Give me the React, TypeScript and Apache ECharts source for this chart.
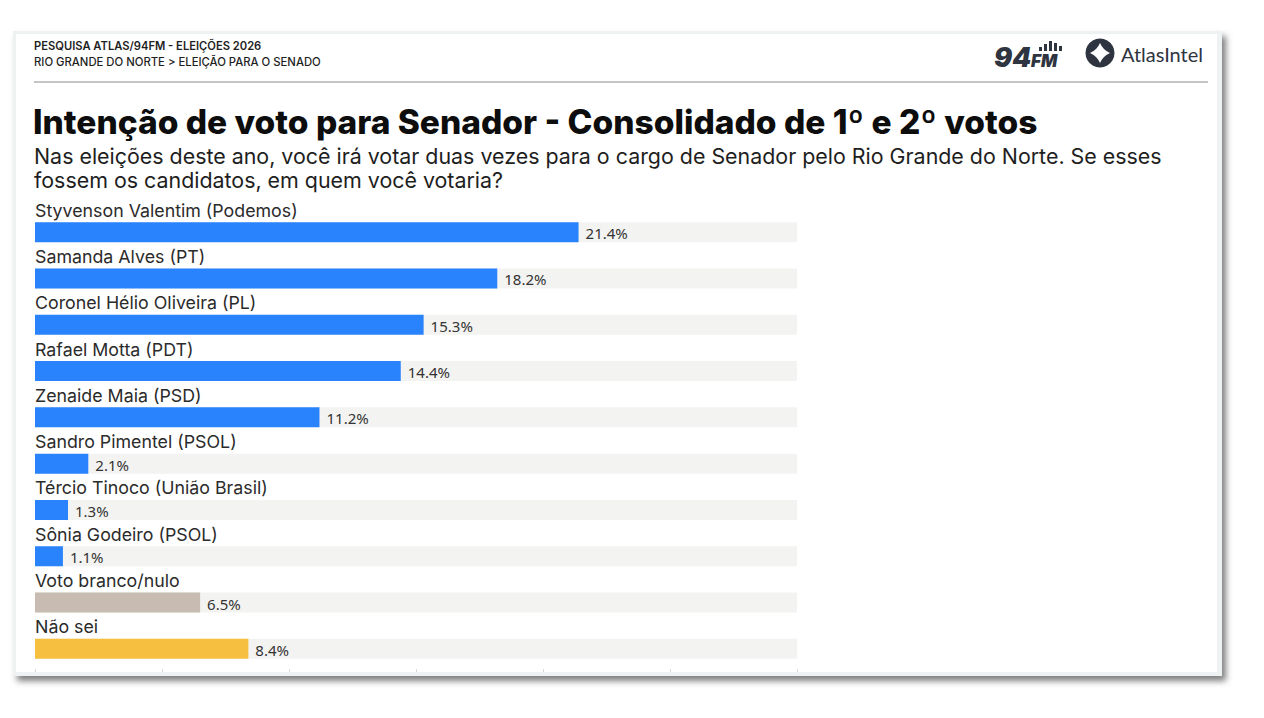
import React, { useEffect, useRef } from "react";
import * as echarts from "echarts";

// Survey results: combined 1st and 2nd Senate votes, Rio Grande do Norte
const categories = [
  "Styvenson Valentim (Podemos)",
  "Samanda Alves (PT)",
  "Coronel Hélio Oliveira (PL)",
  "Rafael Motta (PDT)",
  "Zenaide Maia (PSD)",
  "Sandro Pimentel (PSOL)",
  "Tércio Tinoco (União Brasil)",
  "Sônia Godeiro (PSOL)",
  "Voto branco/nulo",
  "Não sei",
];
const values = [21.4, 18.2, 15.3, 14.4, 11.2, 2.1, 1.3, 1.1, 6.5, 8.4];
const barColors = [
  "#2883fd", "#2883fd", "#2883fd", "#2883fd", "#2883fd",
  "#2883fd", "#2883fd", "#2883fd", "#c8bbb2", "#f6bf3f",
];

const headerLine1 = "PESQUISA ATLAS/94FM - ELEIÇÕES 2026";
const headerLine2 = "RIO GRANDE DO NORTE > ELEIÇÃO PARA O SENADO";
const title = "Intenção de voto para Senador - Consolidado de 1º e 2º votos";
const subtitle1 =
  "Nas eleições deste ano, você irá votar duas vezes para o cargo de Senador pelo Rio Grande do Norte. Se esses";
const subtitle2 = "fossem os candidatos, em quem você votaria?";

const DARK = "#2e3440";

// Softly concave diamond inside the AtlasIntel mark
echarts.graphic.registerShape(
  "atlasMark",
  echarts.graphic.extendPath(
    "M0,-10 Q3,-3 10,0 Q3,3 0,10 Q-3,3 -10,0 Q-3,-3 0,-10 Z",
    {}
  )
);

export default function App() {
  const ref = useRef<HTMLDivElement>(null);

  useEffect(() => {
    if (!ref.current) return;
    const chart = echarts.init(ref.current, null, { renderer: "svg" });

    const signalBars = [4, 7, 10, 8, 5];

    chart.setOption({
      animation: false,
      backgroundColor: "#ffffff",
      grid: { left: 35, width: 762, top: 209, height: 463, containLabel: false },
      xAxis: {
        type: "value",
        min: 0,
        max: 30,
        interval: 5,
        axisLine: { show: false },
        axisTick: { show: true, inside: true, length: 3, lineStyle: { color: "#d6d9d9" } },
        axisLabel: { show: false },
        splitLine: { show: false },
      },
      yAxis: {
        type: "category",
        data: categories,
        inverse: true,
        axisLine: { show: false },
        axisTick: { show: false },
        axisLabel: { show: false },
      },
      series: [
        {
          type: "bar",
          data: values.map((v, i) => ({ value: v, itemStyle: { color: barColors[i] } })),
          barWidth: 20,
          showBackground: true,
          backgroundStyle: { color: "#f3f3f2" },
          label: {
            show: true,
            position: "right",
            distance: 7,
            formatter: (p: any) => `${p.value.toFixed(1)}%`,
            fontFamily: "Noto Sans",
            fontSize: 15,
            color: "#333333",
            offset: [0, 1],
          },
        },
        {
          type: "bar",
          data: values,
          barWidth: 20,
          barGap: "-100%",
          itemStyle: { color: "transparent" },
          silent: true,
          label: {
            show: true,
            position: [0, -12],
            align: "left",
            verticalAlign: "middle",
            formatter: (p: any) => categories[p.dataIndex],
            fontFamily: "Inter",
            fontSize: 17.8,
            color: "#2b2b2b",
          },
        },
      ],
      graphic: [
        // card with shadow
        {
          type: "rect",
          z: -10,
          shape: { x: 13, y: 31, width: 1209, height: 645 },
          style: {
            fill: "#eef2f2",
            shadowBlur: 6,
            shadowOffsetX: 4,
            shadowOffsetY: 5,
            shadowColor: "rgba(0,0,0,0.5)",
          },
        },
        {
          type: "rect",
          z: -9,
          shape: { x: 16, y: 34, width: 1201, height: 638 },
          style: { fill: "#ffffff" },
        },
        // header
        {
          type: "text",
          x: 34,
          y: 46,
          style: {
            text: headerLine1,
            font: "600 11.2px Inter",
            fill: "#1f1f1f",
            verticalAlign: "middle",
          },
        },
        {
          type: "text",
          x: 34,
          y: 62,
          style: {
            text: headerLine2,
            font: "500 11.3px Inter",
            fill: "#1f1f1f",
            verticalAlign: "middle",
          },
        },
        {
          type: "line",
          shape: { x1: 34, y1: 82, x2: 1208, y2: 82 },
          style: { stroke: "#8a8a8a", lineWidth: 1 },
        },
        // 94FM mark
        {
          type: "text",
          x: 994,
          y: 57,
          style: {
            text: "94",
            font: "italic 900 27px Inter",
            fill: DARK,
            verticalAlign: "middle",
          },
        },
        {
          type: "text",
          x: 1031,
          y: 61,
          style: {
            text: "FM",
            font: "italic 900 17px Inter",
            fill: DARK,
            verticalAlign: "middle",
          },
        },
        ...signalBars.map((h, i) => ({
          type: "rect",
          shape: { x: 1039 + i * 5, y: 51 - h, width: 3, height: h },
          style: { fill: DARK },
        })),
        // AtlasIntel mark
        {
          type: "circle",
          shape: { cx: 1100, cy: 53, r: 14.5 },
          style: { fill: DARK },
        },
        {
          type: "atlasMark",
          x: 1100,
          y: 53,
          scaleX: 1.0,
          scaleY: 1.0,
          style: { fill: "#ffffff" },
        },
        {
          type: "text",
          x: 1121,
          y: 54,
          style: {
            text: "AtlasIntel",
            font: "400 20px Lato",
            fill: DARK,
            verticalAlign: "middle",
          },
        },
        // title and question
        {
          type: "text",
          x: 33,
          y: 122,
          style: {
            text: title,
            font: "800 33.5px Inter",
            fill: "#0d0d0d",
            verticalAlign: "middle",
          },
        },
        {
          type: "text",
          x: 34,
          y: 156,
          style: {
            text: subtitle1,
            font: "400 21.4px Inter",
            fill: "#1e1e1e",
            verticalAlign: "middle",
          },
        },
        {
          type: "text",
          x: 34,
          y: 180,
          style: {
            text: subtitle2,
            font: "400 21.4px Inter",
            fill: "#1e1e1e",
            verticalAlign: "middle",
          },
        },
      ],
    });

    return () => chart.dispose();
  }, []);

  return (
    <div
      ref={ref}
      style={{ position: "absolute", left: 0, top: 0, width: 1264, height: 718 }}
    />
  );
}
